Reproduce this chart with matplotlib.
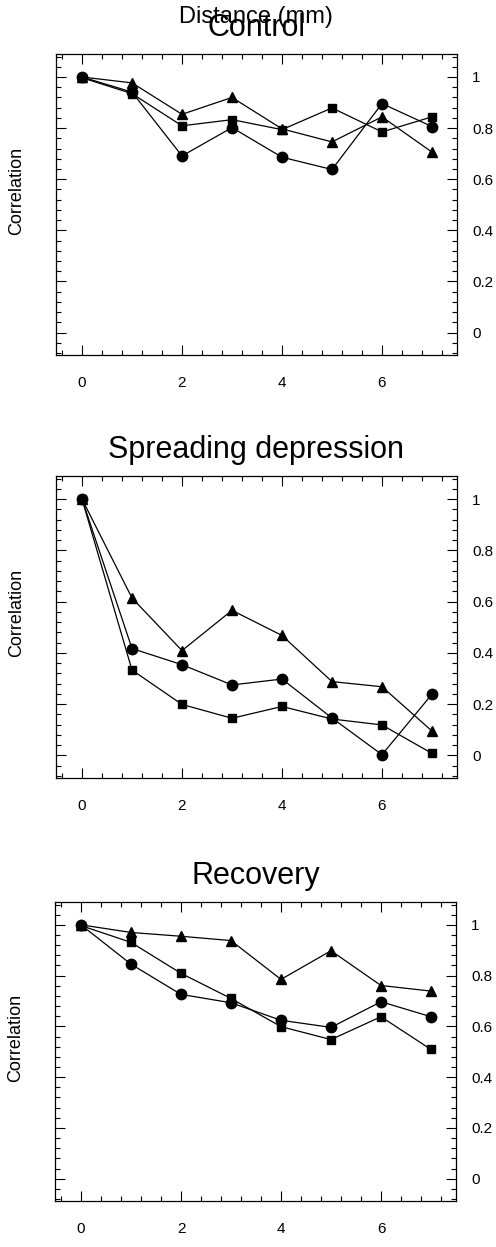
import numpy as np
import matplotlib
matplotlib.use("Agg")
import matplotlib.pyplot as plt
from matplotlib.ticker import MultipleLocator

plt.rcParams['font.family'] = ['Liberation Sans', 'DejaVu Sans']

# distance along the slice (mm)
distance = [0, 1, 2, 3, 4, 5, 6, 7]

# correlation values, one list per marker type
control_circle = [1.0, 0.941, 0.691, 0.802, 0.686, 0.638, 0.896, 0.806]
control_triangle = [1.0, 0.977, 0.854, 0.920, 0.797, 0.746, 0.844, 0.706]
control_square = [0.997, 0.935, 0.809, 0.833, 0.794, 0.879, 0.785, 0.844]

sd_circle = [1.0, 0.417, 0.354, 0.275, 0.298, 0.146, 0.003, 0.239]
sd_triangle = [1.0, 0.614, 0.409, 0.566, 0.468, 0.288, 0.268, 0.095]
sd_square = [1.0, 0.333, 0.199, 0.145, 0.191, 0.142, 0.119, 0.008]

rec_circle = [1.0, 0.845, 0.726, 0.693, 0.624, 0.596, 0.697, 0.638]
rec_triangle = [1.0, 0.970, 0.955, 0.938, 0.785, 0.898, 0.761, 0.739]
rec_square = [0.997, 0.931, 0.809, 0.710, 0.599, 0.548, 0.638, 0.509]

titles = ['Control', 'Spreading depression', 'Recovery']
panels = [
    (control_circle, control_triangle, control_square),
    (sd_circle, sd_triangle, sd_square),
    (rec_circle, rec_triangle, rec_square),
]

W, H = 496, 1247
fig = plt.figure(figsize=(W / 100, H / 100), dpi=100)

# axes boxes in pixels: left, top, right, bottom
boxes = [(56, 54, 457, 355), (56, 476, 457, 778), (55, 902, 456, 1201)]

for (l, t, r, b), title, (circ, tri, sq) in zip(boxes, titles, panels):
    ax = fig.add_axes([l / W, 1 - b / H, (r - l) / W, (b - t) / H])
    ax.plot(distance, circ, color='black', lw=0.9, marker='o', ms=7.5)
    ax.plot(distance, tri, color='black', lw=0.9, marker='^', ms=7.5)
    ax.plot(distance, sq, color='black', lw=0.9, marker='s', ms=5.5)

    ax.set_xlim(-0.52, 7.5)
    ax.set_ylim(-0.088, 1.09)
    ax.xaxis.set_major_locator(MultipleLocator(2))
    ax.xaxis.set_minor_locator(MultipleLocator(0.4))
    ax.yaxis.set_major_locator(MultipleLocator(0.2))
    ax.yaxis.set_minor_locator(MultipleLocator(0.04))
    ax.set_xticks([0, 2, 4, 6])
    ax.set_xticklabels(['0', '2', '4', '6'])
    ax.set_yticks([0, 0.2, 0.4, 0.6, 0.8, 1.0])
    ax.set_yticklabels(['0', '0.2', '0.4', '0.6', '0.8', '1'])
    ax.yaxis.tick_right()
    ax.tick_params(which='both', direction='in', top=True, bottom=True,
                   left=True, right=True, width=0.8, color='black')
    ax.tick_params(which='major', length=7)
    ax.tick_params(which='minor', length=3.5)
    ax.tick_params(axis='x', which='major', labelsize=11, pad=15)
    ax.tick_params(axis='y', which='major', labelsize=11, pad=11,
                   labelleft=False, labelright=True)
    for s in ax.spines.values():
        s.set_linewidth(0.9)

    ax.set_title(title, fontsize=22, pad=13)
    ax.set_ylabel('Correlation', fontsize=13)
    ax.yaxis.set_label_position('left')
    ax.yaxis.set_label_coords(-0.076, 0.545)

# clipped axis label of the panel above, left at the top edge
fig.text(0.515, 1 - 23 / H, 'Distance (mm)', ha='center', va='baseline',
         fontsize=17)

fig.savefig('out.png', dpi=100)
